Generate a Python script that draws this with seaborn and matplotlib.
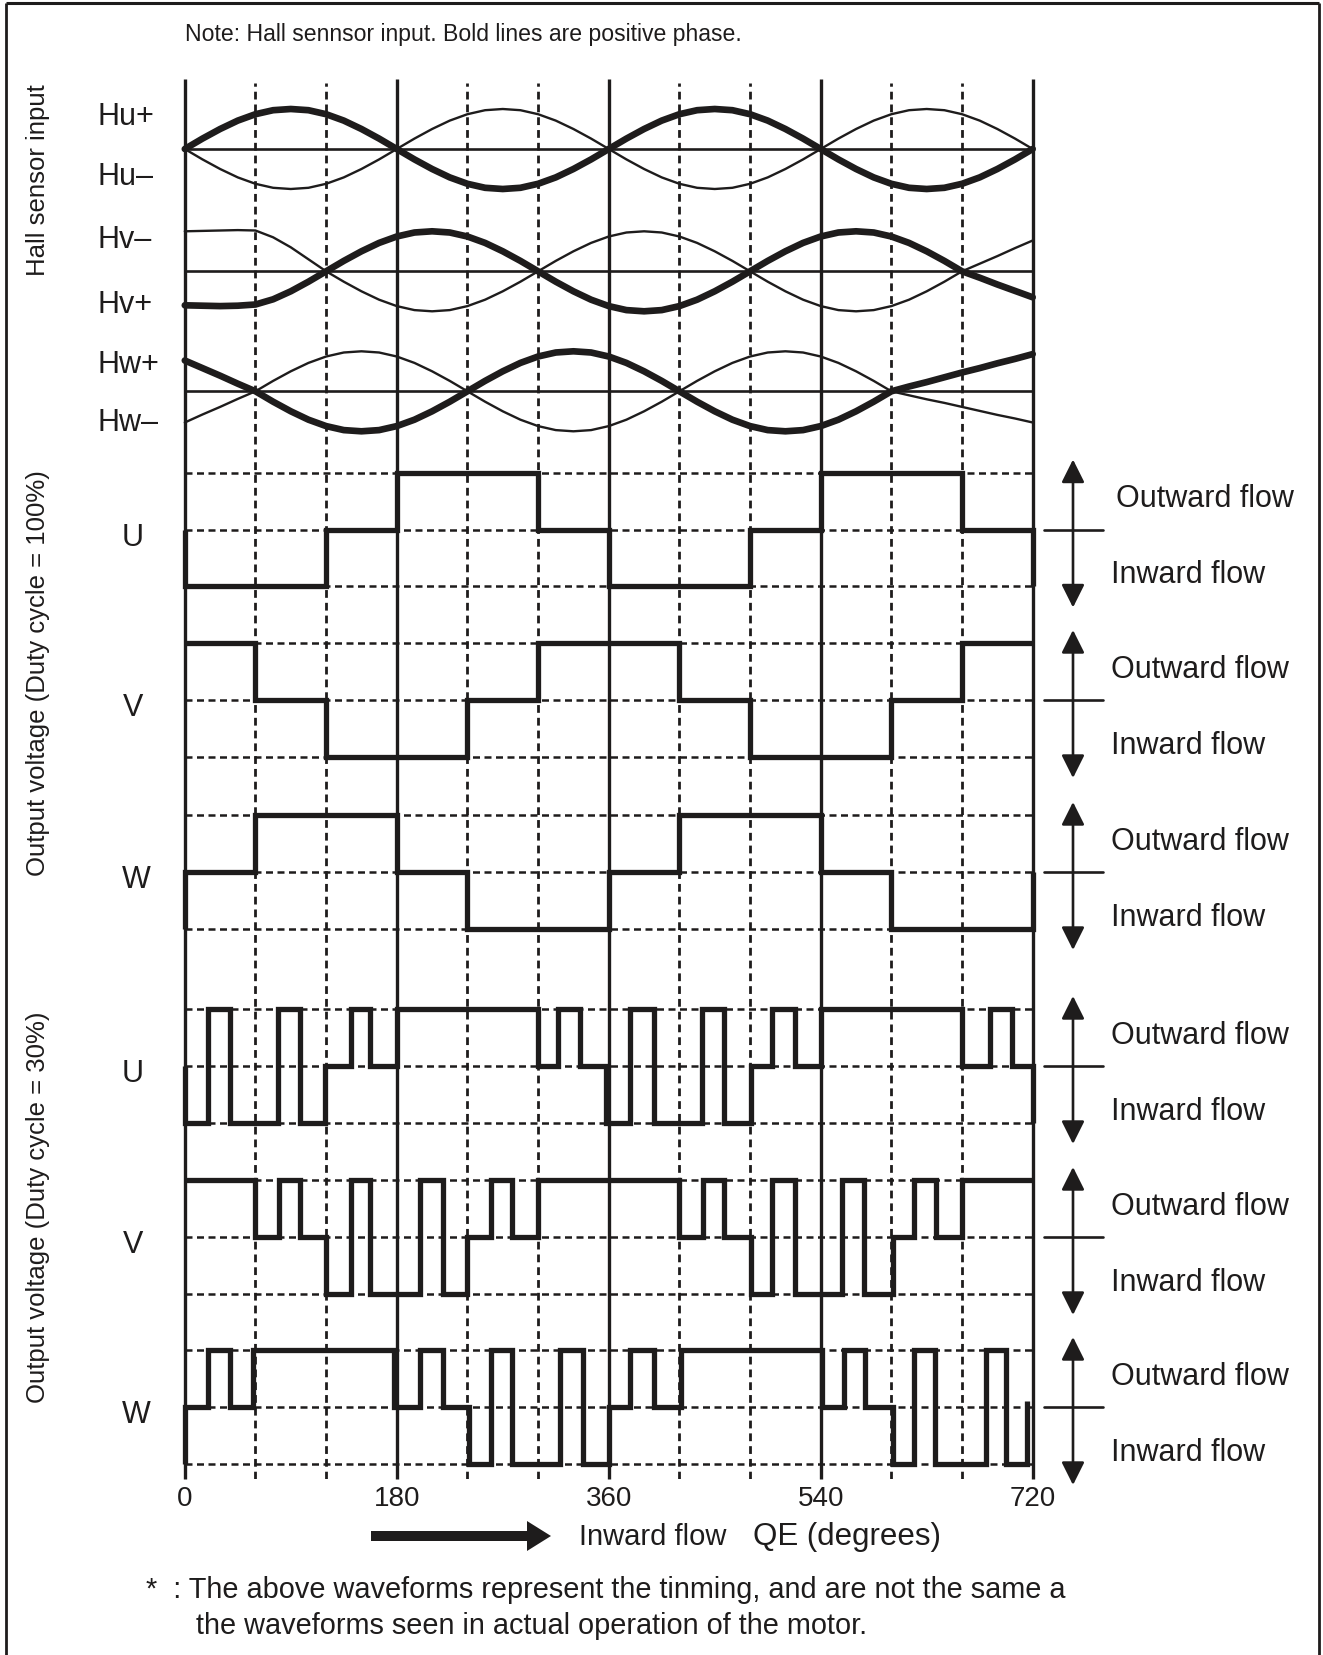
import matplotlib
matplotlib.use("Agg")
import matplotlib.pyplot as plt
from matplotlib.patches import FancyArrow, FancyArrowPatch
import seaborn as sns

# figure size in pixels and the x span of 0..720 degrees
W, H = 1323, 1656
X0, X1 = 184.8, 1032.7
INK = "#1e1c1c"

# Hall sensor samples every 15 degrees (1 = peak height)
hall_deg = list(range(0, 721, 15))
hu_pos = [0, .26, .5, .71, .87, .97, 1, .97, .87, .71, .5, .26,
          0, -.26, -.5, -.71, -.87, -.97, -1, -.97, -.87, -.71, -.5, -.26,
          0, .26, .5, .71, .87, .97, 1, .97, .87, .71, .5, .26,
          0, -.26, -.5, -.71, -.87, -.97, -1, -.97, -.87, -.71, -.5, -.26,
          0]
hu_neg = [0, -.26, -.5, -.71, -.87, -.97, -1, -.97, -.87, -.71, -.5, -.26,
          0, .26, .5, .71, .87, .97, 1, .97, .87, .71, .5, .26,
          0, -.26, -.5, -.71, -.87, -.97, -1, -.97, -.87, -.71, -.5, -.26,
          0, .26, .5, .71, .87, .97, 1, .97, .87, .71, .5, .26,
          0]
hv_pos = [-.85, -.86, -.87, -.86, -.83, -.7, -.5, -.26,
          0, .26, .5, .71, .87, .97, 1, .97, .87, .71, .5, .26,
          0, -.26, -.5, -.71, -.87, -.97, -1, -.97, -.87, -.71, -.5, -.26,
          0, .26, .5, .71, .87, .97, 1, .97, .87, .71, .5, .26,
          0, -.16, -.33, -.49, -.65]
hv_neg = [1.0, 1.01, 1.02, 1.03, 1.02, .85, .6, .3,
          0, -.26, -.5, -.71, -.87, -.97, -1, -.97, -.87, -.71, -.5, -.26,
          0, .26, .5, .71, .87, .97, 1, .97, .87, .71, .5, .26,
          0, -.26, -.5, -.71, -.87, -.97, -1, -.97, -.87, -.71, -.5, -.26,
          0, .19, .38, .58, .77]
hw_pos = [.77, .58, .39, .19,
          0, -.26, -.5, -.71, -.87, -.97, -1, -.97, -.87, -.71, -.5, -.26,
          0, .26, .5, .71, .87, .97, 1, .97, .87, .71, .5, .26,
          0, -.26, -.5, -.71, -.87, -.97, -1, -.97, -.87, -.71, -.5, -.26,
          0, .12, .23, .35, .47, .58, .7, .81, .93]
hw_neg = [-.78, -.58, -.39, -.19,
          0, .26, .5, .71, .87, .97, 1, .97, .87, .71, .5, .26,
          0, -.26, -.5, -.71, -.87, -.97, -1, -.97, -.87, -.71, -.5, -.26,
          0, .26, .5, .71, .87, .97, 1, .97, .87, .71, .5, .26,
          0, -.1, -.2, -.29, -.39, -.49, -.59, -.68, -.78]

# output levels: 1 = outward, 0 = off, -1 = inward (steps-post breakpoints)
u100_x = [0, 0, 120, 180, 300, 360, 480, 540, 660, 720]
u100_y = [0, -1, 0, 1, 0, -1, 0, 1, 0, -1]
v100_x = [0, 60, 120, 240, 300, 420, 480, 600, 660, 720]
v100_y = [1, 0, -1, 0, 1, 0, -1, 0, 1, 1]
w100_x = [0, 0, 60, 180, 240, 360, 420, 540, 600, 720]
w100_y = [-1, 0, 1, 0, -1, 0, 1, 0, -1, 0]

u30_x = [0, 0, 20, 38, 79, 98, 119, 141, 157, 180, 300, 317, 336, 358, 378, 398,
         439, 458, 481, 499, 518, 540, 660, 684, 702, 720]
u30_y = [0, -1, 1, -1, 1, -1, 0, 1, 0, 1, 0, 1, 0, -1, 1, -1,
         1, -1, 0, 1, 0, 1, 0, 1, 0, -1]
v30_x = [0, 60, 80, 98, 120, 141, 157, 200, 219, 240, 260, 278, 300, 420, 440, 458,
         481, 499, 518, 558, 577, 601, 619, 638, 660, 720]
v30_y = [1, 0, 1, 0, -1, 1, -1, 1, -1, 0, 1, 0, 1, 0, 1, 0,
         -1, 1, -1, 1, -1, 0, 1, 0, 1, 1]
w30_x = [0, 0, 20, 38, 58, 178, 200, 219, 241, 260, 278, 319, 338, 360, 378, 398,
         421, 541, 560, 578, 601, 619, 637, 680, 697, 715]
w30_y = [-1, 0, 1, 0, 1, 0, 1, 0, -1, 1, -1, 1, -1, 0, 1, 0,
         1, 0, 1, 0, -1, 1, -1, 1, -1, 0.1]

solid_deg = [0, 180, 360, 540, 720]
dashed_deg = [60, 120, 240, 300, 420, 480, 600, 660]
tick_labels = ["0", "180", "360", "540", "720"]

hall_rows = [("Hu+", "Hu\u2013", hu_pos, hu_neg, 150, -33, 27),
             ("Hv\u2013", "Hv+", hv_neg, hv_pos, 272.3, -32, 33),
             ("Hw+", "Hw\u2013", hw_pos, hw_neg, 392.3, -27, 31)]
step_rows = [("U", u100_x, u100_y, 530.5), ("V", v100_x, v100_y, 701),
             ("W", w100_x, w100_y, 873), ("U", u30_x, u30_y, 1067),
             ("V", v30_x, v30_y, 1238), ("W", w30_x, w30_y, 1408)]

sns.set_theme(style="white")
plt.rcParams["font.family"] = ["Liberation Sans", "DejaVu Sans"]
plt.rcParams["text.color"] = INK

fig = plt.figure(figsize=(W / 100, H / 100), dpi=100)
fig.patch.set_facecolor("white")

# page axes in pixel units for the free text and arrows
bg = fig.add_axes([0, 0, 1, 1])
bg.set_xlim(0, W)
bg.set_ylim(H, 0)
bg.axis("off")


def band_axes(center, half_px, half_units):
    ax = fig.add_axes([X0 / W, 1 - (center + half_px) / H,
                       (X1 - X0) / W, 2 * half_px / H])
    ax.set_xlim(0, 720)
    ax.set_ylim(-half_units, half_units)
    ax.axis("off")
    ax.patch.set_alpha(0)
    return ax


# vertical timing grid
grid = fig.add_axes([X0 / W, 1 - 1480 / H, (X1 - X0) / W, 1400 / H])
grid.set_xlim(0, 720)
grid.set_ylim(0, 1)
grid.patch.set_alpha(0)
sns.despine(ax=grid, left=True, bottom=True)
grid.set_yticks([])
grid.set_xticks(solid_deg)
grid.set_xticklabels(tick_labels)
grid.tick_params(axis="x", length=0, pad=4, labelsize=20, labelcolor=INK)
for d in solid_deg:
    grid.axvline(d, color=INK, lw=2.4, solid_capstyle="butt", clip_on=False)
for d in dashed_deg:
    grid.axvline(d, ymin=0, ymax=1 - 4 / 1400, color=INK, lw=2.0,
                 linestyle=(0, (2.8, 1.8)))

# Hall sensor traces
for top_lab, bot_lab, top_vals, bot_vals, center, dy_top, dy_bot in hall_rows:
    ax = band_axes(center, 60, 1.5)
    ax.axhline(0, color=INK, lw=1.9)
    bold, thin = (top_vals, bot_vals) if "+" in top_lab else (bot_vals, top_vals)
    sns.lineplot(x=hall_deg, y=thin, ax=ax, color=INK, lw=1.7,
                 estimator=None, sort=False, clip_on=False)
    sns.lineplot(x=hall_deg, y=bold, ax=ax, color=INK, lw=4.8,
                 estimator=None, sort=False, clip_on=False,
                 solid_capstyle="round", solid_joinstyle="round")
    bg.text(98, center + dy_top, top_lab, fontsize=22, ha="left", va="center")
    bg.text(98, center + dy_bot, bot_lab, fontsize=22, ha="left", va="center")

# output voltage steps
for i, (lab, xs, ys, center) in enumerate(step_rows):
    ax = band_axes(center, 85, 1.5)
    for lvl in (-1, 0, 1):
        ax.axhline(lvl, color=INK, lw=1.8, linestyle=(0, (2.8, 1.8)))
    sns.lineplot(x=xs, y=ys, ax=ax, color=INK, lw=3.8, drawstyle="steps-post",
                 estimator=None, sort=False, clip_on=False,
                 solid_joinstyle="miter", solid_capstyle="butt")
    bg.text(133 if lab != "W" else 136, center + 7.5, lab, fontsize=22,
            ha="center", va="center")
    # direction marker on the right
    bg.add_patch(FancyArrowPatch((1073, center - 70), (1073, center + 78),
                                 arrowstyle="<|-|>,head_length=14,head_width=7",
                                 color=INK, lw=1.9, shrinkA=0, shrinkB=0,
                                 mutation_scale=1))
    bg.plot([1044, 1103], [center, center], color=INK, lw=1.9)
    bg.text(1116 if i == 0 else 1111, center - 31, "Outward flow", fontsize=22,
            ha="left", va="center")
    bg.text(1111, center + 45, "Inward flow", fontsize=22, ha="left", va="center")

# headings and group labels
bg.text(185, 34, "Note: Hall sennsor input. Bold lines are positive phase.",
        fontsize=16.6, ha="left", va="center")
bg.text(38, 180, "Hall sensor input", rotation=90, fontsize=18.5,
        ha="center", va="center")
bg.text(38, 673, "Output voltage (Duty cycle = 100%)", rotation=90,
        fontsize=18.5, ha="center", va="center")
bg.text(38, 1207, "Output voltage (Duty cycle = 30%)", rotation=90,
        fontsize=18.5, ha="center", va="center")

# axis caption with arrow
bg.add_patch(FancyArrow(371, 1537, 180, 0, width=10, head_width=30,
                        head_length=24, length_includes_head=True,
                        color=INK, lw=0))
bg.text(579, 1537, "Inward flow", fontsize=21, ha="left", va="center")
bg.text(753, 1537, "QE (degrees)", fontsize=22.5, ha="left", va="center")

# footnote
bg.text(146, 1590, "*  : The above waveforms represent the tinming, and are not the same a",
        fontsize=20.8, ha="left", va="center")
bg.text(196, 1626, "the waveforms seen in actual operation of the motor.",
        fontsize=20.8, ha="left", va="center")

# frame
bg.plot([6, 6], [4, H], color=INK, lw=2, solid_capstyle="butt")
bg.plot([6, 1319], [4, 4], color=INK, lw=2.2, solid_capstyle="butt")
bg.plot([1319, 1319], [4, H], color=INK, lw=2, solid_capstyle="butt")

fig.savefig("out.png", dpi=100)
plt.close(fig)
